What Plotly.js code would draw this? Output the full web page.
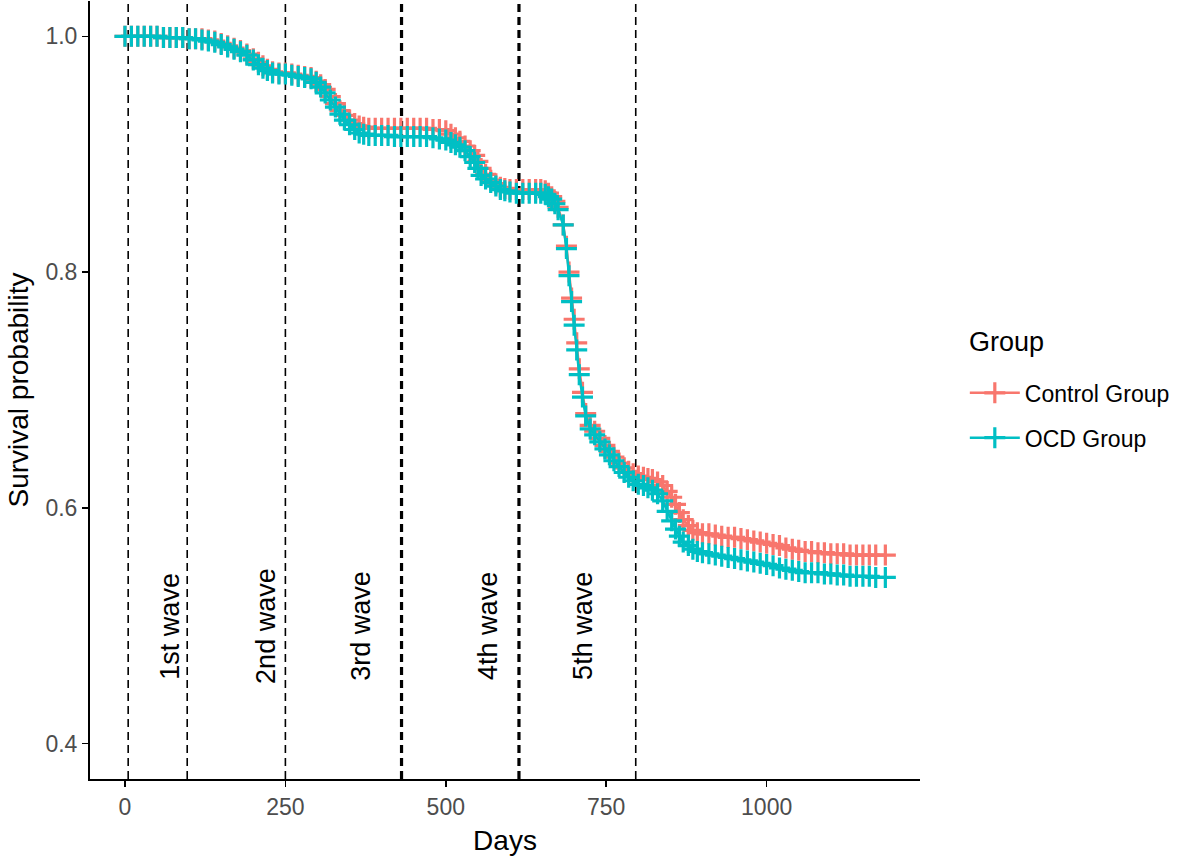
<!DOCTYPE html>
<html>
<head>
<meta charset="utf-8">
<script src="https://cdn.plot.ly/plotly-3.0.1.min.js"></script>
<style>
  html, body { margin: 0; padding: 0; background: white; }
  #km { width: 1181px; height: 863px; }
</style>
</head>
<body>
<div id="km"></div>
<script>
// survival curves
var controlDays = [0, 10, 20, 30, 40, 50, 60, 70, 80, 90, 100, 110, 120, 130, 140, 150, 160, 170, 180, 190,
  200, 208, 215, 222, 230, 240, 250, 260, 270, 280, 290, 298, 305, 312, 320, 328, 335, 342, 350, 358,
  365, 372, 380, 390, 400, 410, 420, 430, 440, 450, 460, 470, 480, 490, 500, 508, 515, 522, 530, 538,
  545, 550, 555, 562, 570, 578, 585, 592, 600, 610, 620, 630, 640, 648, 655, 660, 665, 670, 675,
  683, 688, 692, 696, 700, 704, 708, 713, 718, 725, 732, 740, 748, 755, 762, 770, 778, 785, 792, 800, 808, 815, 822, 830,
  838, 845, 852, 858, 864, 870, 878, 885, 892, 900, 910, 920, 930, 940, 950, 960, 970, 980, 990, 1000,
  1010, 1020, 1030, 1040, 1050, 1060, 1070, 1080, 1090, 1100, 1110, 1120, 1130, 1140, 1150, 1160, 1170, 1185];
var controlSurv = [1.000, 1.000, 1.000, 1.000, 1.000, 1.000, 0.999, 0.999, 0.999, 0.999, 0.998, 0.998, 0.998, 0.997, 0.996, 0.994, 0.992, 0.990, 0.988, 0.985,
  0.981, 0.978, 0.975, 0.972, 0.970, 0.969, 0.969, 0.968, 0.967, 0.966, 0.965, 0.962, 0.959, 0.955, 0.949, 0.943, 0.937, 0.933, 0.929, 0.926,
  0.924, 0.923, 0.922, 0.922, 0.922, 0.922, 0.922, 0.922, 0.922, 0.922, 0.922, 0.922, 0.921, 0.921, 0.920, 0.917, 0.914, 0.911, 0.907, 0.903,
  0.899, 0.894, 0.888, 0.883, 0.878, 0.875, 0.872, 0.871, 0.870, 0.870, 0.870, 0.870, 0.870, 0.870, 0.869, 0.867, 0.864, 0.860, 0.855,
  0.840, 0.822, 0.800, 0.778, 0.760, 0.740, 0.718, 0.698, 0.680, 0.670, 0.665, 0.659, 0.653, 0.648, 0.643, 0.638, 0.634, 0.631, 0.629, 0.627, 0.626, 0.625, 0.624, 0.622,
  0.619, 0.614, 0.609, 0.603, 0.596, 0.590, 0.585, 0.581, 0.579, 0.578, 0.578, 0.577, 0.576, 0.575, 0.575, 0.574, 0.573, 0.572, 0.571, 0.570,
  0.569, 0.568, 0.566, 0.565, 0.564, 0.563, 0.563, 0.562, 0.562, 0.561, 0.561, 0.561, 0.560, 0.560, 0.560, 0.560, 0.560, 0.560];

var ocdDays = [0, 10, 20, 30, 40, 50, 60, 70, 80, 90, 100, 110, 120, 130, 140, 150, 160, 170, 180, 190,
  200, 208, 215, 222, 230, 240, 250, 260, 270, 280, 290, 298, 305, 312, 320, 328, 335, 342, 350, 358,
  365, 372, 380, 390, 400, 410, 420, 430, 440, 450, 460, 470, 480, 490, 500, 508, 515, 522, 530, 538,
  545, 550, 555, 562, 570, 578, 585, 592, 600, 610, 620, 630, 640, 648, 655, 660, 665, 670, 675,
  683, 688, 692, 696, 700, 704, 708, 713, 718, 725, 732, 740, 748, 755, 762, 770, 778, 785, 792, 800, 808, 815, 822, 830,
  838, 845, 852, 858, 864, 870, 878, 885, 892, 900, 910, 920, 930, 940, 950, 960, 970, 980, 990, 1000,
  1010, 1020, 1030, 1040, 1050, 1060, 1070, 1080, 1090, 1100, 1110, 1120, 1130, 1140, 1150, 1160, 1170, 1185];
var ocdSurv = [1.000, 1.000, 1.000, 1.000, 1.000, 1.000, 0.999, 0.999, 0.999, 0.999, 0.998, 0.998, 0.997, 0.996, 0.995, 0.993, 0.991, 0.989, 0.987, 0.984,
  0.980, 0.976, 0.973, 0.971, 0.969, 0.968, 0.968, 0.967, 0.966, 0.965, 0.964, 0.961, 0.957, 0.952, 0.946, 0.940, 0.934, 0.929, 0.925, 0.921,
  0.918, 0.917, 0.916, 0.916, 0.916, 0.916, 0.915, 0.915, 0.915, 0.915, 0.915, 0.915, 0.914, 0.913, 0.912, 0.910, 0.908, 0.906, 0.903, 0.898,
  0.893, 0.888, 0.882, 0.879, 0.876, 0.873, 0.870, 0.869, 0.868, 0.867, 0.867, 0.867, 0.867, 0.867, 0.866, 0.864, 0.862, 0.858, 0.853,
  0.840, 0.820, 0.797, 0.775, 0.755, 0.734, 0.713, 0.694, 0.678, 0.667, 0.662, 0.656, 0.650, 0.645, 0.640, 0.635, 0.630, 0.626, 0.623, 0.620, 0.619, 0.617, 0.615, 0.612,
  0.606, 0.597, 0.589, 0.582, 0.576, 0.571, 0.568, 0.565, 0.563, 0.562, 0.561, 0.560, 0.559, 0.558, 0.557, 0.556, 0.555, 0.554, 0.553, 0.552,
  0.551, 0.549, 0.548, 0.547, 0.546, 0.545, 0.545, 0.545, 0.544, 0.544, 0.543, 0.543, 0.542, 0.542, 0.542, 0.542, 0.541, 0.541];

// wave boundaries (days) and labels
var waveLines = [5, 97, 250, 431, 614, 796];
var waveLineWidths = [1.6, 1.6, 1.6, 3.2, 3.2, 1.6];
var waveLabels = ["1st wave", "2nd wave", "3rd wave", "4th wave", "5th wave"];
var waveLabelDays = [70, 220, 368, 566, 714];
var waveLabelY = 0.5;

var xTicks = [0, 250, 500, 750, 1000];
var yTicks = [0.4, 0.6, 0.8, 1.0];

function kmTrace(name, x, y, color) {
  return {
    type: "scatter",
    mode: "lines+markers",
    name: name,
    legendgroup: name,
    x: x,
    y: y,
    line: { color: color, width: 2.5 },
    marker: { symbol: "cross-thin", size: 15, color: color, line: { color: color, width: 3.2 } }
  };
}

var data = [
  kmTrace("Control Group", controlDays, controlSurv, "#F8766D"),
  kmTrace("OCD Group", ocdDays, ocdSurv, "#00BFC4")
];

var shapes = waveLines.map(function (d, i) {
  return {
    type: "line", xref: "x", yref: "paper",
    x0: d, x1: d, y0: 0, y1: 1,
    line: { color: "black", width: waveLineWidths[i], dash: "8px,5px" },
    layer: "below"
  };
});

var annotations = waveLabels.map(function (t, i) {
  return {
    x: waveLabelDays[i], y: waveLabelY, xref: "x", yref: "y",
    text: t, showarrow: false, textangle: -90,
    font: { size: 27, color: "black" }
  };
});

// legend title drawn as text so the gap below it matches
annotations.push({
  x: 1.057, y: 0.562, xref: "paper", yref: "paper",
  xanchor: "left", yanchor: "middle",
  text: "Group", showarrow: false,
  font: { size: 27, color: "black" }
});

var layout = {
  width: 1181,
  height: 863,
  margin: { t: 1, r: 261, l: 90, b: 84 },
  paper_bgcolor: "white",
  plot_bgcolor: "white",
  font: { family: "Liberation Sans, Arial, sans-serif", color: "black" },
  showlegend: true,
  legend: {
    x: 1.054, xanchor: "left", y: 0.524, yanchor: "top",
    font: { size: 23 },
    itemwidth: 50,
    tracegroupgap: 12
  },
  xaxis: {
    range: [-54.5, 1239],
    tickvals: xTicks,
    ticks: "outside", ticklen: 6, tickwidth: 1.5, tickcolor: "black",
    showline: true, linecolor: "black", linewidth: 2,
    showgrid: false, zeroline: false,
    tickfont: { size: 23, color: "#4D4D4D" },
    title: { text: "Days", font: { size: 28 }, standoff: 12 }
  },
  yaxis: {
    range: [0.37, 1.03],
    tickvals: yTicks,
    tickformat: ".1f",
    ticks: "outside", ticklen: 6, tickwidth: 1.5, tickcolor: "black",
    showline: true, linecolor: "black", linewidth: 2,
    showgrid: false, zeroline: false,
    tickfont: { size: 23, color: "#4D4D4D" },
    title: { text: "Survival probability", font: { size: 28 }, standoff: 9 }
  },
  shapes: shapes,
  annotations: annotations
};

Plotly.newPlot("km", data, layout, { displayModeBar: false, staticPlot: true });
</script>
</body>
</html>
